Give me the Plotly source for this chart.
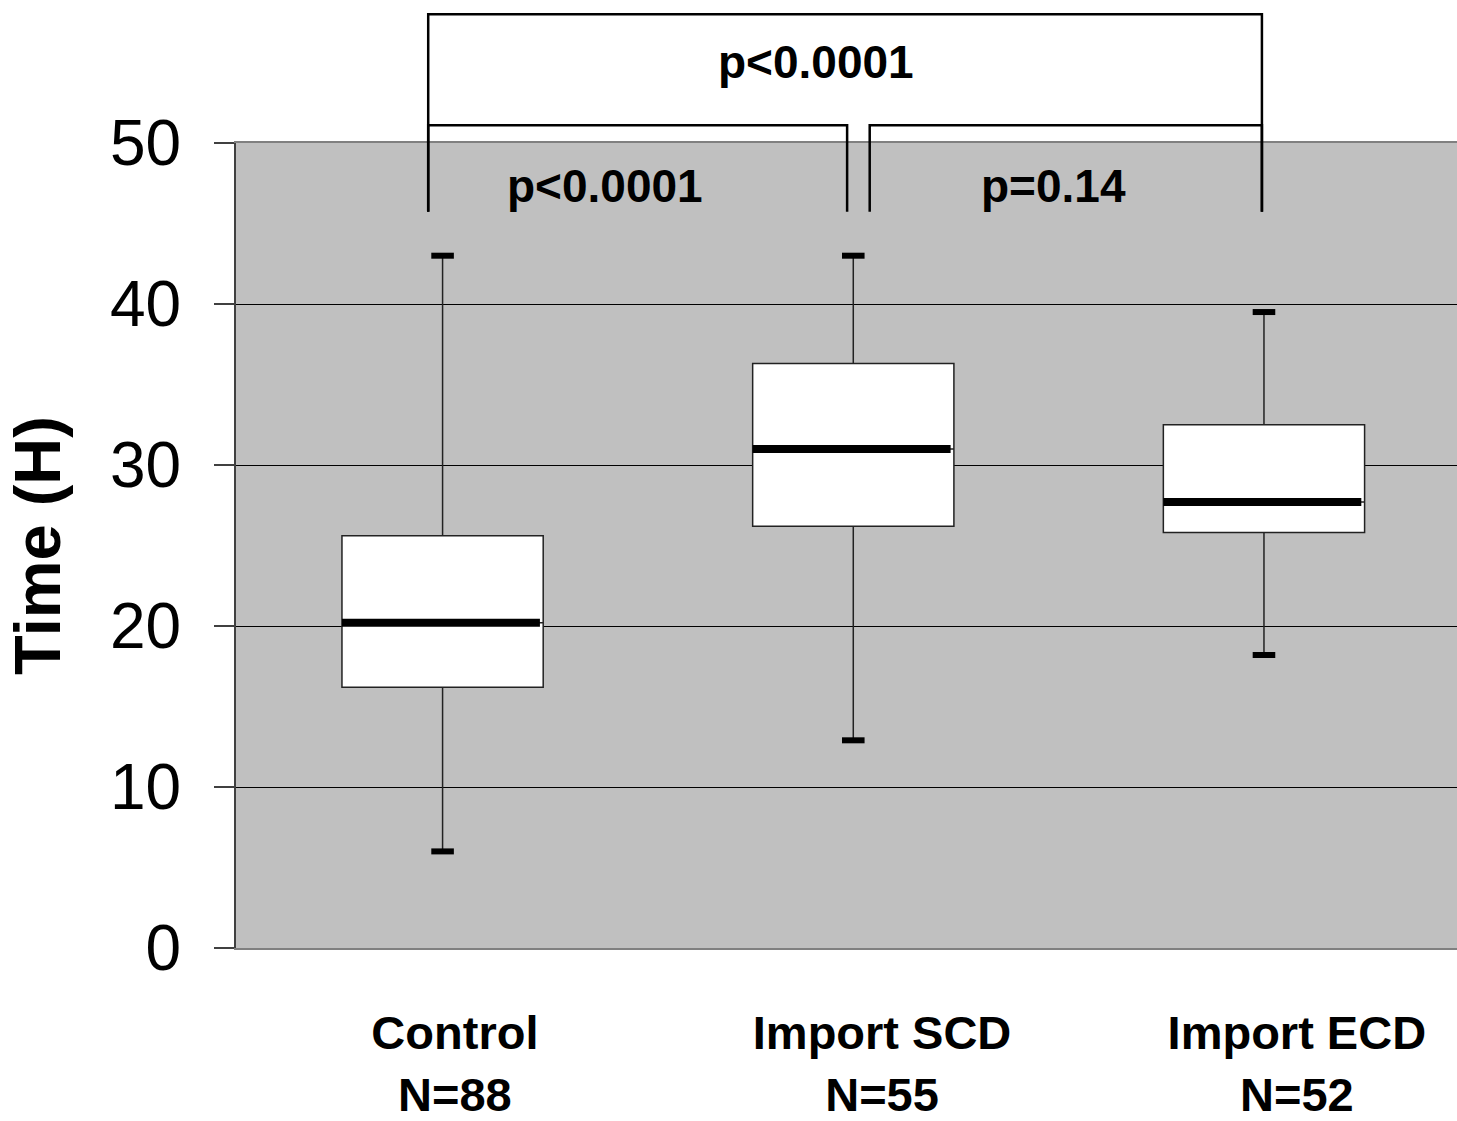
import plotly.graph_objects as go

# Group summaries (hours)
groups = ["Control", "Import SCD", "Import ECD"]
group_n = [88, 55, 52]
positions = [0, 1, 2]
lower_whisker = [6.0, 12.9, 18.2]
q1 = [16.2, 26.2, 25.8]
median = [20.2, 31.0, 27.7]
q3 = [25.6, 36.3, 32.5]
upper_whisker = [43.0, 43.0, 39.5]

# Group label placement along the category axis
label_pos = [0.03, 1.07, 2.08]

# Pairwise comparisons: (left x, right x, label)
comparisons = [(0.0, 0.96, "p<0.0001"), (1.04, 2.0, "p=0.14")]
overall_p = "p<0.0001"

y_ticks = [0, 10, 20, 30, 40, 50]

FONT = "Liberation Sans, Arial, sans-serif"
BOX_W = 0.49
CAP_W = 0.055

fig = go.Figure()

fig.add_trace(go.Box(
    x=positions, q1=q1, median=median, q3=q3,
    lowerfence=lower_whisker, upperfence=upper_whisker,
    width=BOX_W, whiskerwidth=0,
    fillcolor="white", line=dict(color="#222222", width=1.5),
    boxpoints=False, hoverinfo="skip", showlegend=False,
))

# Thick median bars
for xp, m in zip(positions, median):
    fig.add_trace(go.Scatter(
        x=[xp - BOX_W / 2, xp + BOX_W / 2 - 0.008], y=[m, m], mode="lines",
        line=dict(color="black", width=8), hoverinfo="skip", showlegend=False,
    ))

# Whisker caps
for xp, lo, hi in zip(positions, lower_whisker, upper_whisker):
    for v in (lo, hi):
        fig.add_trace(go.Scatter(
            x=[xp - CAP_W / 2, xp + CAP_W / 2], y=[v, v], mode="lines",
            line=dict(color="black", width=6), hoverinfo="skip", showlegend=False,
        ))

# Significance brackets (paper y above/into the plot area)
Y_LEG = 0.9145
Y_INNER = 1.022
Y_TOP = 1.160
bracket_line = dict(color="black", width=2.5)
left_x = comparisons[0][0] - 0.035
right_x = comparisons[1][1] - 0.005
# outer bracket
fig.add_shape(type="path",
              path=f"M {left_x},{Y_LEG} L {left_x},{Y_TOP} L {right_x},{Y_TOP} L {right_x},{Y_LEG}",
              xref="x", yref="paper", line=bracket_line)
# inner brackets
inner = [(left_x, 0.985), (1.04, right_x)]
for (a, b) in inner:
    fig.add_shape(type="path",
                  path=f"M {a},{Y_LEG} L {a},{Y_INNER} L {b},{Y_INNER} L {b},{Y_LEG}",
                  xref="x", yref="paper", line=bracket_line)

ann_font = dict(family=FONT, size=46, color="black")
fig.add_annotation(x=0.91, y=1.1, xref="x", yref="paper",
                   text=f"<b>{overall_p}</b>", showarrow=False, font=ann_font,
                   xanchor="center", yanchor="middle")
fig.add_annotation(x=0.395, y=0.946, xref="x", yref="paper",
                   text=f"<b>{comparisons[0][2]}</b>", showarrow=False, font=ann_font,
                   xanchor="center", yanchor="middle")
fig.add_annotation(x=1.487, y=0.946, xref="x", yref="paper",
                   text=f"<b>{comparisons[1][2]}</b>", showarrow=False, font=ann_font,
                   xanchor="center", yanchor="middle")

fig.update_layout(
    width=1457, height=1121,
    margin=dict(l=236, r=0, t=143, b=159),
    paper_bgcolor="white", plot_bgcolor="#C0C0C0",
    font=dict(family=FONT, color="black"),
    showlegend=False,
)

fig.update_xaxes(
    range=[-0.503, 2.47],
    tickvals=label_pos,
    ticktext=[f"<b>{g}</b><br><b>N={n}</b>" for g, n in zip(groups, group_n)],
    tickfont=dict(family=FONT, size=47, color="black"),
    ticks="", ticklabelstandoff=43,
    showgrid=False, zeroline=False,
    showline=True, linecolor="#808080", linewidth=2, mirror=True,
)

fig.update_yaxes(
    range=[0, 50], tickvals=y_ticks,
    tickfont=dict(family=FONT, size=64, color="black"),
    ticks="outside", ticklen=20, tickcolor="#404040", tickwidth=1.5,
    ticklabelstandoff=20,
    showgrid=True, gridcolor="black", gridwidth=1,
    zeroline=False,
    showline=True, linecolor="#404040", linewidth=2,
    title=dict(text="<b>Time (H)</b>", font=dict(family=FONT, size=65, color="black"),
               standoff=28),
)

fig.write_html("out.html")
